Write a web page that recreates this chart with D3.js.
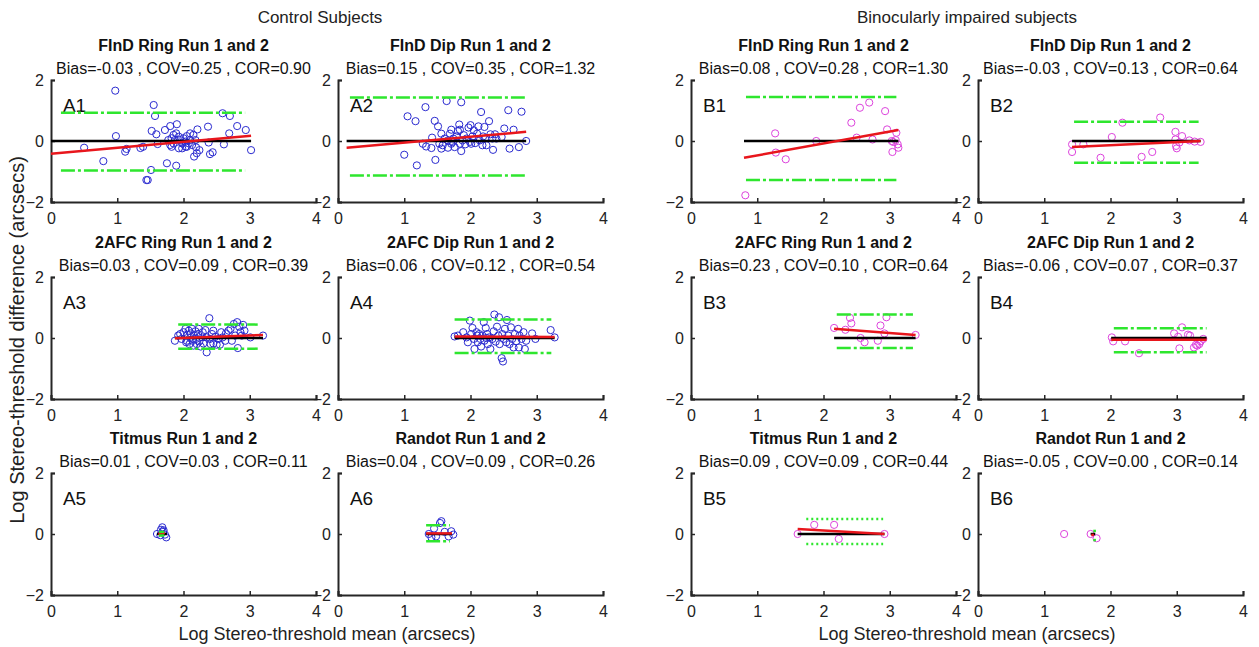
<!DOCTYPE html>
<html>
<head>
<meta charset="utf-8">
<script src="https://cdn.jsdelivr.net/npm/d3@7"></script>
<style>
  body { margin: 0; background: #fff; }
  svg { font-family: "Liberation Sans", Arial, sans-serif; }
</style>
</head>
<body>
<svg id="chart" width="1259" height="647"></svg>
<script>
// panel order: A1..A6 (control), B1..B6 (binocularly impaired)
const panelIds = ["A1", "A2", "A3", "A4", "A5", "A6", "B1", "B2", "B3", "B4", "B5", "B6"];
const panelTitles = [
  "FInD Ring Run 1 and 2", "FInD Dip Run 1 and 2",
  "2AFC Ring Run 1 and 2", "2AFC Dip Run 1 and 2",
  "Titmus Run 1 and 2", "Randot Run 1 and 2",
  "FInD Ring Run 1 and 2", "FInD Dip Run 1 and 2",
  "2AFC Ring Run 1 and 2", "2AFC Dip Run 1 and 2",
  "Titmus Run 1 and 2", "Randot Run 1 and 2"
];
const panelStats = [
  "Bias=-0.03 , COV=0.25 , COR=0.90", "Bias=0.15 , COV=0.35 , COR=1.32",
  "Bias=0.03 , COV=0.09 , COR=0.39", "Bias=0.06 , COV=0.12 , COR=0.54",
  "Bias=0.01 , COV=0.03 , COR=0.11", "Bias=0.04 , COV=0.09 , COR=0.26",
  "Bias=0.08 , COV=0.28 , COR=1.30", "Bias=-0.03 , COV=0.13 , COR=0.64",
  "Bias=0.23 , COV=0.10 , COR=0.64", "Bias=-0.06 , COV=0.07 , COR=0.37",
  "Bias=0.09 , COV=0.09 , COR=0.44", "Bias=-0.05 , COV=0.00 , COR=0.14"
];
const groupTitles = ["Control Subjects", "Binocularly impaired subjects"];
const xTicks = [0, 1, 2, 3, 4];
const yTicks = [-2, 0, 2];

// [mean, difference] pairs
const a1Points = [[0.97,1.65],[1.55,1.18],[1.57,0.82],[0.98,0.16],[0.50,-0.22],[0.79,-0.66],[1.12,-0.35],[1.14,-0.26],
  [1.35,-0.23],[1.39,-0.19],[1.52,0.33],[1.59,0.22],[1.61,-0.10],[1.51,-0.95],[1.44,-1.28],[1.46,-1.28],[1.75,-0.73],
  [1.89,-0.81],[1.72,0.36],[1.80,0.49],[1.90,0.55],[1.77,0.03],[1.82,-0.19],[1.85,0.20],[1.89,0.25],[1.93,0.14],
  [1.95,0.03],[1.98,-0.08],[2.00,0.09],[2.03,-0.02],[2.05,0.16],[2.08,-0.08],[2.10,0.03],[2.13,-0.13],[2.15,0.20],
  [2.18,0.03],[2.16,-0.51],[2.20,-0.40],[2.21,0.38],[2.24,-0.30],[1.93,-0.24],[1.98,-0.24],[2.05,-0.19],[2.19,-0.21],
  [2.37,0.47],[2.38,-0.05],[2.40,-0.43],[2.44,-0.37],[2.59,0.91],[2.70,0.82],[2.61,-0.11],[2.69,0.25],[2.81,0.49],
  [2.94,0.36],[3.02,-0.30],[1.85,-0.08],[1.87,0.03],[1.82,0.09],[1.80,-0.13],[2.03,-0.19],[2.10,0.25]];
const a2Points = [[1.00,-0.45],[1.05,0.81],[1.17,0.65],[1.19,-0.80],[1.32,1.11],[1.28,-0.09],[1.33,-0.18],[1.41,-0.23],
  [1.46,0.66],[1.47,-0.62],[1.51,0.48],[1.42,0.11],[1.53,-0.09],[1.56,0.24],[1.58,-0.14],[1.64,1.31],[1.61,0.08],
  [1.66,-0.22],[1.69,0.24],[1.71,0.37],[1.73,-0.03],[1.76,-0.20],[1.79,0.15],[1.81,0.33],[1.83,0.54],[1.84,0.37],
  [1.86,1.27],[1.86,-0.33],[1.88,0.02],[1.90,0.19],[1.92,-0.11],[1.94,0.08],[1.97,0.44],[1.99,-0.03],[2.00,0.52],
  [2.03,0.15],[2.05,0.35],[2.07,-0.07],[2.10,0.24],[2.12,0.48],[2.16,0.95],[2.18,-0.14],[2.19,0.15],[2.21,0.46],
  [2.22,0.08],[2.24,-0.14],[2.28,0.65],[2.30,0.22],[2.33,0.08],[2.34,-0.29],[2.37,0.22],[2.39,0.08],[2.47,0.13],
  [2.51,0.41],[2.57,1.01],[2.59,-0.25],[2.65,0.37],[2.77,0.96],[2.73,-0.20],[2.84,0.00],[1.71,-0.09],[1.56,-0.25],
  [1.66,0.02],[1.74,0.08],[1.84,-0.09],[2.01,-0.09],[2.14,0.02]];
const a3Points = [[1.87,-0.09],[1.92,0.08],[1.95,0.13],[1.97,-0.03],[2.00,0.19],[2.03,0.30],[2.04,-0.14],[2.06,0.10],
  [2.08,0.24],[2.10,0.00],[2.11,0.15],[2.13,0.30],[2.14,-0.09],[2.16,0.08],[2.18,0.22],[2.19,-0.03],[2.20,-0.20],
  [2.22,0.13],[2.23,0.30],[2.24,-0.11],[2.26,-0.28],[2.28,0.02],[2.29,0.19],[2.30,-0.18],[2.33,0.26],[2.35,-0.47],
  [2.39,0.65],[2.40,-0.03],[2.41,-0.20],[2.43,0.13],[2.45,-0.18],[2.48,0.04],[2.50,-0.22],[2.55,-0.22],[2.57,0.19],
  [2.59,0.02],[2.64,0.15],[2.68,0.24],[2.71,0.30],[2.73,-0.09],[2.76,0.46],[2.78,0.08],[2.81,0.52],[2.82,-0.33],
  [2.84,0.37],[2.86,0.19],[2.88,0.08],[2.90,0.43],[2.92,0.24],[3.01,0.02],[3.20,0.08],[2.05,-0.09],[2.09,-0.20],
  [2.15,-0.25],[2.35,0.02],[2.45,0.24],[2.53,-0.03],[2.63,-0.09]];
const a4Points = [[1.76,0.05],[1.89,0.19],[1.94,0.02],[1.96,-0.14],[1.99,0.57],[2.01,0.13],[2.03,0.33],[2.05,-0.03],
  [2.06,-0.36],[2.09,0.19],[2.10,0.08],[2.11,-0.14],[2.13,0.13],[2.15,-0.03],[2.16,-0.28],[2.18,0.08],[2.20,0.52],
  [2.21,-0.09],[2.23,0.33],[2.25,0.13],[2.26,-0.20],[2.28,0.02],[2.30,-0.36],[2.33,-0.03],[2.35,0.22],[2.36,0.77],
  [2.38,-0.12],[2.40,0.37],[2.42,0.08],[2.43,0.68],[2.44,-0.20],[2.47,-0.66],[2.49,-0.77],[2.48,0.13],[2.50,-0.03],
  [2.52,0.30],[2.54,-0.14],[2.55,0.59],[2.57,0.08],[2.59,-0.20],[2.61,0.35],[2.63,-0.03],[2.65,-0.31],[2.67,0.13],
  [2.69,-0.11],[2.72,0.30],[2.73,-0.31],[2.77,-0.03],[2.80,0.19],[2.82,-0.36],[2.84,-0.09],[2.93,0.15],[2.98,-0.03],
  [3.21,0.26],[3.27,0.02],[1.81,0.08],[2.24,0.00],[2.74,0.08]];
const a5Points = [[1.60,0.00],[1.66,0.14],[1.68,0.22],[1.69,0.07],[1.72,-0.02],[1.74,-0.11],[1.65,-0.04],[1.70,0.12]];
const a6Points = [[1.37,0.00],[1.45,0.18],[1.54,0.36],[1.56,0.42],[1.48,-0.08],[1.61,0.07],[1.71,0.09],[1.74,-0.02],
  [1.41,-0.11],[1.67,-0.08]];
const b1Points = [[0.82,-1.78],[1.27,0.25],[1.28,-0.38],[1.43,-0.60],[1.89,0.00],[2.42,0.60],[2.50,0.11],[2.55,1.09],
  [2.69,1.26],[2.74,0.05],[2.93,0.98],[2.96,0.38],[3.03,0.00],[3.05,-0.03],[3.04,-0.36],[3.10,0.27],[3.09,0.03],
  [3.12,-0.11],[3.13,-0.22]];
const b2Points = [[1.42,-0.11],[1.42,-0.36],[1.59,-0.11],[1.85,-0.55],[2.02,0.13],[2.18,0.60],[2.47,-0.52],[2.63,-0.36],
  [2.75,0.77],[2.98,0.30],[2.98,0.05],[2.99,-0.16],[3.00,-0.24],[3.04,-0.05],[3.08,0.16],[3.19,0.02],[3.27,-0.02],
  [3.36,-0.03]];
const b3Points = [[2.16,0.33],[2.33,0.27],[2.40,0.66],[2.42,0.48],[2.56,0.00],[2.62,-0.14],[2.82,-0.09],[2.86,0.41],
  [2.92,0.15],[2.95,0.68],[3.39,0.10]];
const b4Points = [[2.02,0.02],[2.04,-0.11],[2.22,-0.11],[2.43,-0.50],[2.96,0.15],[3.02,0.04],[3.04,-0.34],[3.08,0.35],
  [3.17,0.11],[3.20,0.08],[3.26,-0.31],[3.29,-0.22],[3.31,-0.25],[3.34,-0.20],[3.36,-0.11],[3.40,-0.03]];
const b5Points = [[1.61,0.00],[1.86,0.30],[2.16,0.30],[2.23,-0.16],[2.92,0.00]];
const b6Points = [[1.30,0.00],[1.70,0.00],[1.79,-0.14]];
const allPoints = [a1Points, a2Points, a3Points, a4Points, a5Points, a6Points,
                   b1Points, b2Points, b3Points, b4Points, b5Points, b6Points];

// zero line [x0, x1]
const zeroSpans = [[0,3.02],[0.13,2.84],[1.87,3.20],[1.76,3.27],[1.60,1.75],[1.33,1.72],
                   [0.80,3.13],[1.42,3.36],[2.16,3.39],[2.01,3.45],[1.61,2.92],[1.70,1.77]];
// regression line [x0, y0, x1, y1]
const regLines = [[0,-0.42,3.02,0.17],[0.13,-0.22,2.84,0.30],[1.87,-0.01,3.20,0.10],[1.76,0.05,3.27,0.03],
                  [1.62,0.01,1.72,0.03],[1.33,0.02,1.72,0.02],
                  [0.80,-0.55,3.13,0.36],[1.42,-0.20,3.36,0.00],[2.16,0.30,3.39,0.10],[2.01,-0.06,3.45,-0.06],
                  [1.61,0.16,2.92,0.00],[1.71,-0.03,1.75,-0.03]];
// limits of agreement [x0, x1, upper, lower]
const loaLines = [[0.15,2.93,0.93,-0.97],[0.18,2.82,1.43,-1.13],[1.92,3.12,0.44,-0.35],[1.76,3.22,0.61,-0.49],
                  [1.63,1.71,0.07,-0.05],[1.33,1.69,0.29,-0.24],
                  [0.83,3.10,1.44,-1.28],[1.45,3.33,0.63,-0.71],[2.20,3.35,0.77,-0.33],[2.05,3.45,0.32,-0.47],
                  [1.74,2.90,0.49,-0.33],[1.74,1.78,0.10,-0.20]];

const colLeft = [51, 338, 691, 978];
const rowTop = [80, 277, 473];
const pw = 265, ph = 122;
const axisColor = "#262626";

const svg = d3.select("#chart");

// group titles and shared labels
[320, 967].forEach((cx, g) => {
  svg.append("text").attr("x", cx).attr("y", 23)
    .attr("text-anchor", "middle").attr("font-size", 17).attr("fill", "#222")
    .text(groupTitles[g]);
  svg.append("text").attr("x", (colLeft[g * 2] + colLeft[g * 2 + 1] + pw) / 2).attr("y", 640)
    .attr("text-anchor", "middle").attr("font-size", 18).attr("fill", "#222")
    .text("Log Stereo-threshold mean (arcsecs)");
});
svg.append("text")
  .attr("transform", "translate(24,340) rotate(-90)")
  .attr("text-anchor", "middle").attr("font-size", 20).attr("fill", "#222")
  .text("Log Stereo-threshold difference (arcsecs)");

panelIds.forEach((id, i) => {
  const group = i < 6 ? 0 : 1;
  const k = i % 6;
  const col = group * 2 + (k % 2);
  const row = Math.floor(k / 2);
  const left = colLeft[col], top = rowTop[row];

  const x = d3.scaleLinear().domain([0, 4]).range([left, left + pw]);
  const y = d3.scaleLinear().domain([-2, 2]).range([top + ph, top]);

  const g = svg.append("g");

  // titles
  g.append("text").attr("x", left + pw / 2).attr("y", top - 29)
    .attr("text-anchor", "middle").attr("font-size", 16).attr("font-weight", "bold").attr("fill", "#111")
    .text(panelTitles[i]);
  g.append("text").attr("x", left + pw / 2).attr("y", top - 6)
    .attr("text-anchor", "middle").attr("font-size", 16).attr("fill", "#111")
    .text(panelStats[i]);

  // axes, ticks pointing inward like matlab
  const xAxis = g.append("g").attr("transform", `translate(0,${top + ph})`)
    .call(d3.axisBottom(x).tickValues(xTicks).tickSize(-4).tickPadding(8).tickFormat(d3.format("d")));
  const yAxis = g.append("g").attr("transform", `translate(${left},0)`)
    .call(d3.axisLeft(y).tickValues(yTicks).tickSize(-4).tickPadding(7).tickFormat(d3.format("d")));
  [xAxis, yAxis].forEach(a => {
    a.select(".domain").attr("stroke", axisColor).attr("stroke-width", 2);
    a.selectAll(".tick line").attr("stroke", axisColor).attr("stroke-width", 1.5);
    a.selectAll(".tick text").attr("font-size", 16).attr("fill", "#222").attr("font-family", "Liberation Sans, Arial, sans-serif");
  });
  xAxis.selectAll(".tick text").attr("dy", "0.85em");

  // panel label
  g.append("text").attr("x", x(0.18)).attr("y", y(0.95))
    .attr("font-size", 19).attr("fill", "#111").text(id);

  // scatter
  const markColor = group === 0 ? "#2b2bd0" : "#dd44dd";
  g.selectAll("circle.pt").data(allPoints[i]).join("circle")
    .attr("class", "pt")
    .attr("cx", d => x(d[0])).attr("cy", d => y(d[1])).attr("r", 3.6)
    .attr("fill", "none").attr("stroke", markColor).attr("stroke-width", 1);

  // zero line
  const z = zeroSpans[i];
  g.append("line").attr("x1", x(z[0])).attr("x2", x(z[1])).attr("y1", y(0)).attr("y2", y(0))
    .attr("stroke", "#000").attr("stroke-width", 2.5);

  // regression
  const r = regLines[i];
  g.append("line").attr("x1", x(r[0])).attr("y1", y(r[1])).attr("x2", x(r[2])).attr("y2", y(r[3]))
    .attr("stroke", "#e8161c").attr("stroke-width", 2.5);

  // limits of agreement
  const l = loaLines[i];
  const dash = id === "B5" ? "2,3" : "14,3,3,3";
  [l[2], l[3]].forEach(v => {
    g.append("line").attr("x1", x(l[0])).attr("x2", x(l[1])).attr("y1", y(v)).attr("y2", y(v))
      .attr("stroke", "#2ee62e").attr("stroke-width", 2.5).attr("stroke-dasharray", dash);
  });
});
</script>
</body>
</html>
